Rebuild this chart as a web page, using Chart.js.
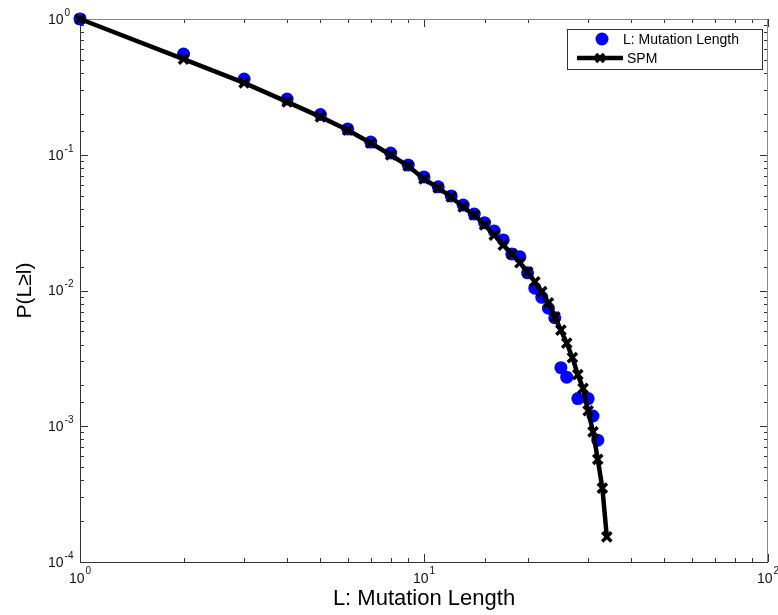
<!DOCTYPE html>
<html>
<head>
<meta charset="utf-8">
<title>P(L≥l) vs L: Mutation Length</title>
<script src="https://cdn.jsdelivr.net/npm/chart.js@4.4.1/dist/chart.umd.min.js"></script>
<style>
  html, body { margin: 0; padding: 0; background: #fff; }
  #wrap { width: 778px; height: 615px; }
</style>
</head>
<body>
<div id="wrap"><canvas id="ccdfChart" width="778" height="615"></canvas></div>
<script>
'use strict';

// --- Data ---
const mutationLengths = [1, 2, 3, 4, 5, 6, 7, 8, 9, 10, 11, 12, 13, 14, 15, 16, 17, 18, 19, 20,
    21, 22, 23, 24, 25, 26, 28, 30, 31, 32];
const mutationProb = [1.0, 0.552, 0.361, 0.257, 0.198, 0.155, 0.124, 0.103, 0.084, 0.0686,
    0.058, 0.0497, 0.0426, 0.0366, 0.0316, 0.0274, 0.0236, 0.0186, 0.0177, 0.0135,
    0.0104, 0.0089, 0.0074, 0.0063, 0.0027, 0.0023, 0.0016, 0.0016, 0.00119, 0.00079];

const spmLengths = [1, 2, 3, 4, 5, 6, 7, 8, 9, 10, 11, 12, 13, 14, 15, 16, 17, 18, 19, 20,
    21, 22, 23, 24, 25, 26, 27, 28, 29, 30, 31, 32, 33, 34];
const spmProb = [1.0, 0.507, 0.338, 0.245, 0.19, 0.152, 0.122, 0.0996, 0.0826, 0.0663,
    0.0569, 0.0489, 0.0412, 0.036, 0.0304, 0.0256, 0.0216, 0.0186, 0.016, 0.0137,
    0.0116, 0.0098, 0.0081, 0.0064, 0.0051, 0.0041, 0.0032, 0.0024, 0.0019, 0.0013,
    0.00091, 0.00057, 0.00035, 0.000153];

const xRange = [1, 100];
const yRange = [1e-4, 1];
const seriesLabels = ['L: Mutation Length', 'SPM'];
const axisTitles = ['L: Mutation Length', 'P(L\u2265l)'];

const FONT = '"Liberation Sans", Arial, sans-serif';

const toPoints = (xs, ys) => xs.map((v, i) => ({ x: v, y: ys[i] }));
const isDecade = v => Math.abs(Math.log10(v) - Math.round(Math.log10(v))) < 1e-6;

// --- MATLAB-like frame: box, inward ticks, 10^n labels ---
const matlabFrame = {
    id: 'matlabFrame',
    beforeDatasetsDraw(chart) {
        const { ctx, chartArea: a, scales: { x, y } } = chart;
        ctx.save();
        ctx.lineWidth = 1;
        ctx.strokeStyle = '#333';
        ctx.beginPath();
        x.ticks.forEach(t => {
            const px = Math.round(x.getPixelForValue(t.value)) + 0.5;
            const len = isDecade(t.value) ? 8 : 4;
            ctx.moveTo(px, a.bottom); ctx.lineTo(px, a.bottom - len);
            ctx.moveTo(px, a.top); ctx.lineTo(px, a.top + len);
        });
        y.ticks.forEach(t => {
            const py = Math.round(y.getPixelForValue(t.value)) + 0.5;
            const len = isDecade(t.value) ? 8 : 4;
            ctx.moveTo(a.left, py); ctx.lineTo(a.left + len, py);
            ctx.moveTo(a.right, py); ctx.lineTo(a.right - len, py);
        });
        ctx.stroke();

        // box
        ctx.beginPath();
        ctx.strokeStyle = '#333';
        ctx.moveTo(Math.round(a.left) + 0.5, Math.round(a.top));
        ctx.lineTo(Math.round(a.left) + 0.5, Math.round(a.bottom) + 0.5);
        ctx.lineTo(Math.round(a.right), Math.round(a.bottom) + 0.5);
        ctx.stroke();
        ctx.beginPath();
        ctx.strokeStyle = '#888';
        ctx.moveTo(Math.round(a.left), Math.round(a.top) + 0.5);
        ctx.lineTo(Math.round(a.right) - 0.5, Math.round(a.top) + 0.5);
        ctx.lineTo(Math.round(a.right) - 0.5, Math.round(a.bottom));
        ctx.stroke();

        // tick labels (10 with superscript exponent)
        ctx.fillStyle = '#111';
        ctx.textBaseline = 'middle';
        ctx.textAlign = 'left';
        const base = '14px ' + FONT, sup = '10px ' + FONT;
        const expText = v => {
            const e = Math.round(Math.log10(v));
            return e < 0 ? '-' + Math.abs(e) : String(e);
        };
        y.ticks.filter(t => isDecade(t.value)).forEach(t => {
            const py = y.getPixelForValue(t.value);
            ctx.font = base;
            ctx.fillText('10', 48, py + 1);
            const w = ctx.measureText('10').width;
            ctx.font = sup;
            ctx.fillText(expText(t.value), 48 + w + 1, py - 6);
        });
        x.ticks.filter(t => isDecade(t.value)).forEach(t => {
            const px = x.getPixelForValue(t.value);
            ctx.font = base;
            const w = ctx.measureText('10').width;
            const e = expText(t.value);
            ctx.font = sup;
            const we = ctx.measureText(e).width;
            const start = px - (w + we + 1) / 2;
            ctx.font = base;
            ctx.fillText('10', start, 579);
            ctx.font = sup;
            ctx.fillText(e, start + w + 1, 571);
        });
        ctx.restore();
    },
    afterDatasetsDraw(chart) {
        // legend box in the top-right corner of the axes
        const { ctx } = chart;
        const ds = chart.data.datasets;
        ctx.save();
        ctx.fillStyle = '#fff';
        ctx.strokeStyle = '#333';
        ctx.lineWidth = 1;
        ctx.fillRect(567, 29, 196, 41);
        ctx.strokeRect(567.5, 29.5, 195, 40);

        ctx.font = '14px ' + FONT;
        ctx.textBaseline = 'middle';
        ctx.fillStyle = '#000';

        // entry 1: blue marker
        ctx.beginPath();
        ctx.fillStyle = ds[0].backgroundColor;
        ctx.arc(602, 39, 6.5, 0, Math.PI * 2);
        ctx.fill();
        ctx.fillStyle = '#000';
        ctx.fillText(ds[0].label, 623, 40);

        // entry 2: line with x marker
        ctx.beginPath();
        ctx.strokeStyle = ds[1].borderColor;
        ctx.lineWidth = 4.5;
        ctx.moveTo(577, 58); ctx.lineTo(623, 58);
        ctx.stroke();
        ctx.lineWidth = 3.5;
        ctx.beginPath();
        ctx.moveTo(596, 54); ctx.lineTo(604, 62);
        ctx.moveTo(604, 54); ctx.lineTo(596, 62);
        ctx.stroke();
        ctx.fillText(ds[1].label, 627, 59);
        ctx.restore();
    }
};

document.addEventListener('DOMContentLoaded', () => {
    const canvas = document.getElementById('ccdfChart');
    if (!canvas) return;

    new Chart(canvas.getContext('2d'), {
        type: 'scatter',
        data: {
            datasets: [
                {
                    label: seriesLabels[0],
                    data: toPoints(mutationLengths, mutationProb),
                    backgroundColor: '#0000ff',
                    borderWidth: 0,
                    pointRadius: 6.5,
                    pointHoverRadius: 6.5,
                    showLine: false,
                    clip: false,
                    order: 2
                },
                {
                    label: seriesLabels[1],
                    data: toPoints(spmLengths, spmProb),
                    borderColor: '#000',
                    backgroundColor: '#000',
                    borderWidth: 4.5,
                    showLine: true,
                    tension: 0,
                    pointStyle: 'crossRot',
                    pointRadius: 6.5,
                    pointBorderWidth: 3.5,
                    pointBorderColor: '#000',
                    clip: false,
                    order: 1
                }
            ]
        },
        options: {
            responsive: false,
            animation: false,
            events: [],
            layout: { padding: { left: 9, right: 10, top: 19, bottom: 0 } },
            plugins: {
                legend: { display: false },
                tooltip: { enabled: false }
            },
            scales: {
                x: {
                    type: 'logarithmic',
                    min: xRange[0],
                    max: xRange[1],
                    grid: { display: false },
                    border: { display: false },
                    ticks: { display: false },
                    title: {
                        display: true,
                        text: axisTitles[0],
                        color: '#000',
                        font: { family: FONT, size: 22 },
                        padding: { top: 4, bottom: 3 }
                    },
                    afterFit: s => { s.height = 53; }
                },
                y: {
                    type: 'logarithmic',
                    min: yRange[0],
                    max: yRange[1],
                    grid: { display: false },
                    border: { display: false },
                    ticks: { display: false },
                    title: {
                        display: true,
                        text: axisTitles[1],
                        color: '#000',
                        font: { family: FONT, size: 21 },
                        padding: { top: 4, bottom: 4 }
                    },
                    afterFit: s => { s.width = 71; }
                }
            }
        },
        plugins: [matlabFrame]
    });
});
</script>
</body>
</html>
